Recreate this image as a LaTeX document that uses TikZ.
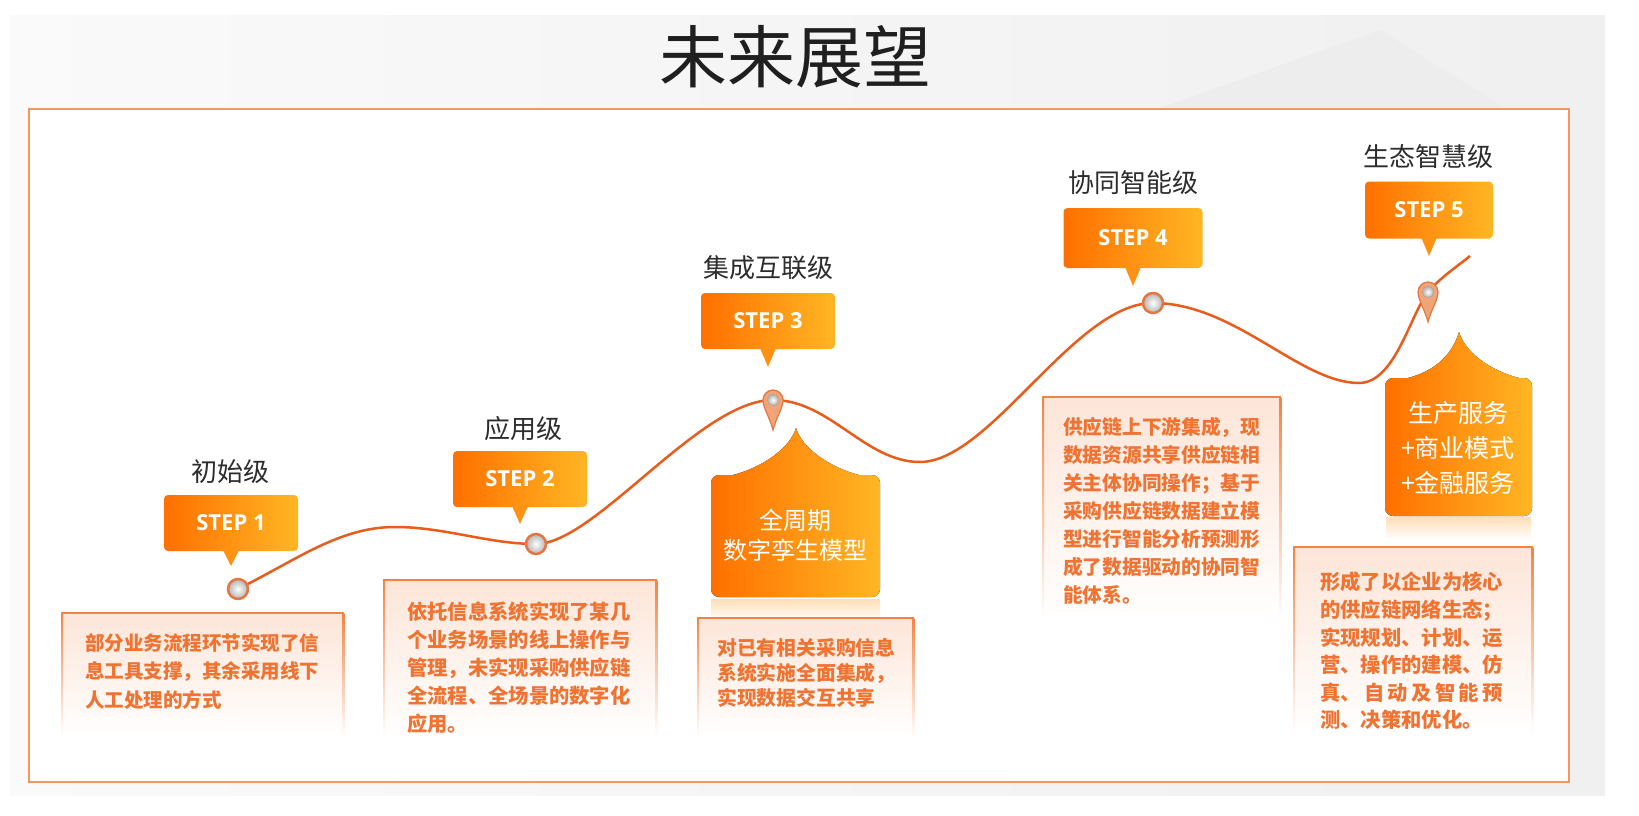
\documentclass[tikz,border=0pt]{standalone}
\usepackage{fontspec}
\newfontfamily\cjk{Noto Sans CJK SC}
\newfontfamily\stepfont{Open Sans}
\usetikzlibrary{calc}
\definecolor{stepL}{RGB}{255,112,0}
\definecolor{stepR}{RGB}{255,182,36}
\definecolor{stepM}{RGB}{255,146,18}
\definecolor{curvec}{RGB}{232,92,28}
\definecolor{boxline}{RGB}{246,130,66}
\definecolor{txtc}{RGB}{240,115,50}
\definecolor{peach}{RGB}{253,229,216}
\definecolor{framec}{RGB}{247,150,95}
\definecolor{labelc}{RGB}{45,45,45}
\definecolor{ringc}{RGB}{228,118,66}
\definecolor{pinfill}{RGB}{240,165,120}
\tikzset{
  stepbox/.style={minimum width=134pt, minimum height=56pt, rounded corners=4pt,
    left color=stepL, right color=stepR, text=white, inner sep=0pt,
    font=\stepfont\bfseries\fontsize{22}{22}\selectfont},
  lvl/.style={font=\cjk\fontsize{26}{26}\selectfont, text=labelc, inner sep=0pt},
  ptr/.style={fill=stepM},
  ring/.style={circle, draw=ringc, line width=2.5pt, inner color=white, outer color=black!30,
    minimum size=20pt, inner sep=0pt},
  descbox/.style={inner sep=0pt, top color=peach, bottom color=white, anchor=north west},
  sideshade/.style={top color=boxline, bottom color=white},
  desctxt/.style={inner sep=0pt, anchor=north west, align=left, text=txtc},
  bigtxt/.style={text=white, inner sep=0pt, align=center},
  curvepath/.style={draw=curvec, line width=2.5pt},
}
\newcommand\descbox[5]{%
  \node[descbox, minimum width=#4pt, minimum height=#5pt] (#1) at (#2,#3) {};
  \fill[sideshade] ($(#1.north west)+(-1,0)$) rectangle ($(#1.south west)+(1,0)$);
  \fill[sideshade] ($(#1.north east)+(-1,0)$) rectangle ($(#1.south east)+(1,0)$);
  \draw[boxline, line width=2pt] ($(#1.north west)+(-1,0)$) -- ($(#1.north east)+(1,0)$);
}
% big orange box with a spike: x1 y1 x2 y2 xa xb xp yp
\newcommand\bigbox[8]{%
  \fill[left color=stepL, right color=stepR]
    (#1,#2+20) -- (#1,#4-8) .. controls (#1,#4-3.6) and (#1+3.6,#4) .. (#1+8,#4)
    -- (#3-8,#4) .. controls (#3-3.6,#4) and (#3,#4-3.6) .. (#3,#4-8)
    -- (#3,#2+8) .. controls (#3,#2+3.6) and (#3-3.6,#2) .. (#3-8,#2)
    -- (#6,#2) .. controls (#6-30,#2-8) and (#7+6,#8+20) .. (#7,#8)
    .. controls (#7-6,#8+20) and (#5+30,#2-8) .. (#5,#2)
    -- (#1+8,#2) .. controls (#1+3.6,#2) and (#1,#2+3.6) .. (#1,#2+8) -- cycle;
}
\newcommand\pinat[1]{%
  \begin{scope}[shift={(#1)}]
    \fill[pinfill, draw=ringc, line width=1.2pt] (0,30) .. controls (-3,18) and (-10,8) .. (-10,0)
      .. controls (-10,-5.5) and (-5.5,-10) .. (0,-10) .. controls (5.5,-10) and (10,-5.5) .. (10,0)
      .. controls (10,8) and (3,18) .. (0,30) -- cycle;
    \fill[inner color=white, outer color=black!30, draw=black!30, line width=0.6pt] (0,0) circle[radius=5.5];
  \end{scope}
}
\begin{document}
\begin{tikzpicture}[x=1pt,y=-1pt]
\useasboundingbox (0,0) rectangle (1639,816);
\fill[white] (0,0) rectangle (1639,816);
% background
\fill[left color=black!2, right color=black!6] (10,16) rectangle (1605,795);
\fill[black!7] (1380,30) -- (1505,108) -- (1160,108) -- cycle;
% title
\node[font=\cjk\fontsize{68}{68}\selectfont, text=black!88, inner sep=0pt] (title) at (795,57) {未来展望};
% frame
\node[draw=framec, fill=white, line width=2pt, minimum width=1540pt, minimum height=673pt,
  anchor=north west, inner sep=0pt] (frame) at (28,108) {};

% reflections under the big boxes
\fill[top color=stepM!30, bottom color=white] (711,599) rectangle (880,622);
\fill[top color=stepM!30, bottom color=white] (1386,517) rectangle (1531,540);

% description boxes
\descbox{b1}{62}{613}{281}{124}
\descbox{b2}{384}{580}{272}{157}
\descbox{b3}{698}{618}{215}{119}
\descbox{b4}{1043}{397}{237}{223}
\descbox{b5}{1294}{547}{238}{186}

\node[desctxt, font=\cjk\bfseries\fontsize{19.5}{28.5}\selectfont] (t1) at (85,633)
  {部分业务流程环节实现了信\\息工具支撑，其余采用线下\\人工处理的方式};
\node[desctxt, font=\cjk\bfseries\fontsize{20.3}{27.8}\selectfont] (t2) at (407,602)
  {依托信息系统实现了某几\\个业务场景的线上操作与\\管理，未实现采购供应链\\全流程、全场景的数字化\\应用。};
\node[desctxt, font=\cjk\bfseries\fontsize{19.8}{25}\selectfont] (t3) at (717,638)
  {对已有相关采购信息\\系统实施全面集成，\\实现数据交互共享};
\node[desctxt, font=\cjk\bfseries\fontsize{19.7}{28}\selectfont] (t4) at (1063,417)
  {供应链上下游集成，现\\数据资源共享供应链相\\关主体协同操作；基于\\采购供应链数据建立模\\型进行智能分析预测形\\成了数据驱动的协同智\\能体系。};
\node[desctxt, font=\cjk\bfseries\fontsize{20.3}{27.6}\selectfont] (t5) at (1320,572)
  {形成了以企业为核心\\的供应链网络生态；\\实现规划、计划、运\\营、操作的建模、仿\\\makebox[9em][s]{真、\hfil 自\hfil 动\hfil 及\hfil 智\hfil 能\hfil 预}\\测、决策和优化。};

% big orange boxes
\bigbox{711}{475}{880}{597}{733}{859}{796}{428}
\node[bigtxt, font=\cjk\fontsize{24}{30}\selectfont] (big1) at (795,535) {全周期\\数字孪生模型};
\bigbox{1385}{378}{1532}{516}{1408}{1519}{1459}{332}
\node[bigtxt, font=\cjk\fontsize{25}{35}\selectfont] (big2) at (1458,448) {生产服务\\+商业模式\\+金融服务};

% curve
\coordinate (m1) at (238,589);
\coordinate (p1) at (395,527);
\coordinate (m2) at (536,544);
\coordinate (m3) at (773,400);
\coordinate (v1) at (920,462);
\coordinate (m4) at (1153,303);
\coordinate (v2) at (1359,383);
\coordinate (m5) at (1428,292);
\coordinate (e) at (1470,256);
\draw[curvepath] (m1) .. controls (298,559) and (340,527) .. (p1)
  .. controls (445,527) and (488,544) .. (m2)
  .. controls (595,544) and (700,400) .. (m3)
  .. controls (830,400) and (865,462) .. (v1)
  .. controls (990,462) and (1075,303) .. (m4)
  .. controls (1235,303) and (1300,383) .. (v2)
  .. controls (1395,383) and (1410,315) .. (m5)
  .. controls (1440,278) and (1455,268) .. (e);

% markers
\node[ring] (r1) at (m1) {};
\node[ring] (r2) at (m2) {};
\node[ring] (r4) at (m4) {};
\pinat{m3}
\pinat{m5}

% step boxes
\node[stepbox] (s1) at (231,523) {STEP 1};
\fill[ptr] (223,550) -- (239,550) -- (231,566) -- cycle;
\node[lvl] (l1) at (230,472) {初始级};

\node[stepbox] (s2) at (520,479) {STEP 2};
\fill[ptr] (512,506) -- (528,506) -- (520,524) -- cycle;
\node[lvl] (l2) at (523,429) {应用级};

\node[stepbox] (s3) at (768,321) {STEP 3};
\fill[ptr] (760,348) -- (776,348) -- (768,367) -- cycle;
\node[lvl] (l3) at (768,268) {集成互联级};

\node[stepbox, minimum width=139pt, minimum height=60pt] (s4) at (1133,238) {STEP 4};
\fill[ptr] (1125,267) -- (1141,267) -- (1133,286) -- cycle;
\node[lvl] (l4) at (1133,183) {协同智能级};

\node[stepbox, minimum width=128pt, minimum height=57pt] (s5) at (1429,210) {STEP 5};
\fill[ptr] (1421,237) -- (1437,237) -- (1429,256) -- cycle;
\node[lvl] (l5) at (1428,157) {生态智慧级};
\end{tikzpicture}
\end{document}
